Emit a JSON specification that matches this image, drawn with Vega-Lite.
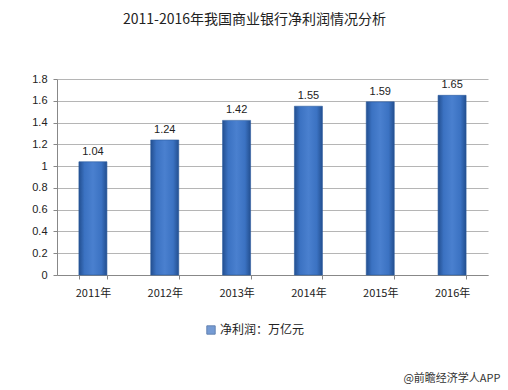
{
  "$schema": "https://vega.github.io/schema/vega-lite/v6.json",
  "width": 431,
  "height": 196,
  "autosize": {"type": "none"},
  "padding": {"left": 57, "top": 79, "right": 20, "bottom": 115},
  "background": "white",
  "title": {
    "text": "2011-2016年我国商业银行净利润情况分析",
    "fontSize": 14,
    "font": "Noto Sans CJK SC",
    "fontWeight": "normal",
    "color": "#222222",
    "anchor": "middle",
    "dx": -18,
    "offset": 46
  },
  "data": {
    "values": [
      {"year": "2011年", "value": 1.04, "series": "净利润：万亿元"},
      {"year": "2012年", "value": 1.24, "series": "净利润：万亿元"},
      {"year": "2013年", "value": 1.42, "series": "净利润：万亿元"},
      {"year": "2014年", "value": 1.55, "series": "净利润：万亿元"},
      {"year": "2015年", "value": 1.59, "series": "净利润：万亿元"},
      {"year": "2016年", "value": 1.65, "series": "净利润：万亿元"}
    ]
  },
  "encoding": {
    "x": {
      "field": "year",
      "type": "nominal",
      "scale": {"paddingInner": 0.61, "paddingOuter": 0.305},
      "axis": {
        "title": "@前瞻经济学人APP",
        "titleFont": "Noto Sans CJK SC",
        "titleFontSize": 11,
        "titleFontWeight": "normal",
        "titleColor": "#333333",
        "titleAnchor": "end",
        "titleAlign": "right",
        "titleBaseline": "middle",
        "titleX": 443,
        "titleY": 103,
        "labelAngle": 0,
        "labelFont": "Noto Sans CJK SC",
        "labelFontSize": 11,
        "labelColor": "#222222",
        "labelPadding": 8,
        "domainColor": "#888888",
        "tickColor": "#888888",
        "ticks": true,
        "tickBand": "extent",
        "tickSize": 4
      }
    },
    "y": {
      "field": "value",
      "type": "quantitative",
      "scale": {"domain": [0, 1.8], "nice": false},
      "axis": {
        "title": null,
        "values": [0, 0.2, 0.4, 0.6, 0.8, 1, 1.2, 1.4, 1.6, 1.8],
        "format": "~g",
        "labelFont": "Liberation Sans",
        "labelFontSize": 11,
        "labelColor": "#222222",
        "labelPadding": 6,
        "domainColor": "#888888",
        "tickColor": "#888888",
        "tickSize": 4,
        "grid": true,
        "gridColor": "#b5b5b5",
        "gridWidth": 1
      }
    }
  },
  "layer": [
    {
      "mark": {
        "type": "bar",
        "stroke": "#2a5a9e",
        "strokeWidth": 0.6,
        "color": {
          "gradient": "linear",
          "x1": 0, "x2": 1, "y1": 0, "y2": 0,
          "stops": [
            {"offset": 0, "color": "#234f90"},
            {"offset": 0.2, "color": "#3b72c2"},
            {"offset": 0.5, "color": "#4a80cf"},
            {"offset": 0.8, "color": "#3b72c2"},
            {"offset": 1, "color": "#234f90"}
          ]
        }
      }
    },
    {
      "mark": {"type": "square", "size": 0, "filled": true},
      "encoding": {
        "color": {
          "field": "series",
          "type": "nominal",
          "scale": {"range": ["#3b72c2"]},
          "legend": {
            "title": null,
            "orient": "none",
            "legendX": 148,
            "legendY": 245,
            "symbolType": "square",
            "symbolSize": 70,
            "symbolStrokeColor": "#234f90",
            "symbolStrokeWidth": 1,
            "labelFont": "Noto Sans CJK SC",
            "labelFontSize": 12,
            "labelColor": "#222222",
            "labelOffset": 3
          }
        }
      }
    },
    {
      "mark": {
        "type": "text",
        "dy": -10,
        "font": "Liberation Sans",
        "fontSize": 11,
        "color": "#222222"
      },
      "encoding": {
        "text": {"field": "value", "type": "quantitative", "format": ".2f"}
      }
    }
  ],
  "config": {
    "view": {"stroke": null}
  }
}
